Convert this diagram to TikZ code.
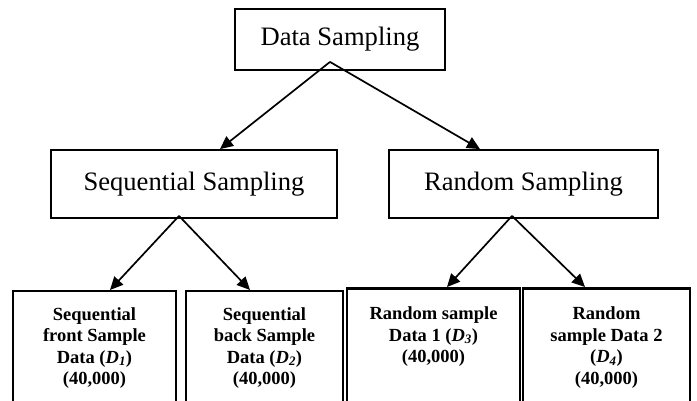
\documentclass[tikz,border=0pt]{standalone}
\usepackage{fontspec}
\setmainfont{Liberation Serif}
\usetikzlibrary{arrows.meta}

\newcommand{\leaftext}[2]{\parbox[t][150pt][t]{#1}{\centering\bfseries\fontsize{18.5}{21.5}\selectfont #2}}

\tikzset{
  topbox/.style={draw, line width=1.8pt, font=\fontsize{26.6}{30}\selectfont, minimum height=61pt},
  midbox/.style={draw, line width=1.8pt, font=\fontsize{26.6}{30}\selectfont, minimum height=68pt},
  leafbox/.style={draw, line width=2pt, anchor=north, inner xsep=3pt, inner ysep=16.4pt},
  arr/.style={-{Triangle[length=13pt,width=12pt]}, line width=1.7pt}
}

\begin{document}
\begin{tikzpicture}[x=1pt, y=-1pt]
	    \useasboundingbox (0,0) rectangle (697,400);
	    \clip (0,0) rectangle (697,400);

	    \node[topbox, minimum width=210pt] (data) at (340,39.5) {Data Sampling};
	    \node[midbox, minimum width=286pt] (seq) at (194,184) {Sequential Sampling};
	    \node[midbox, minimum width=269pt] (rnd) at (523.5,184) {Random Sampling};

	    \node[leafbox] (d1) at (94.5,290) {\leaftext{157pt}{Sequential\\front Sample\\Data (\textit{D\textsubscript{1}})\\(40,000)}};
	    \node[leafbox] (d2) at (264.5,290) {\leaftext{151pt}{Sequential\\back Sample\\Data (\textit{D\textsubscript{2}})\\(40,000)}};
	    \node[leafbox, line width=2.6pt, inner ysep=18.4pt] (d3) at (433.5,287) {\leaftext{167pt}{Random sample\\Data 1 (\textit{D\textsubscript{3}})\\(40,000)}};
	    \node[leafbox, line width=2.6pt, inner ysep=18.4pt] (d4) at (606.5,287) {\leaftext{161pt}{Random\\sample Data 2\\(\textit{D\textsubscript{4}})\\(40,000)}};

	    \coordinate (datafork) at ([xshift=-10pt, yshift=9pt]data.south);
	    \coordinate (seqfork) at ([xshift=-15pt, yshift=3pt]seq.south);
	    \coordinate (rndfork) at ([xshift=-11.5pt, yshift=3pt]rnd.south);

	    \draw[arr] (datafork) -- ([xshift=26pt]seq.north);
	    \draw[arr] (datafork) -- ([xshift=-43.5pt]rnd.north);
	    \draw[arr] (seqfork) -- ([xshift=15.5pt]d1.north);
	    \draw[arr] (seqfork) -- ([xshift=-14.5pt]d2.north);
	    \draw[arr] (rndfork) -- ([xshift=13.5pt]d3.north);
	    \draw[arr] (rndfork) -- ([xshift=-21.5pt]d4.north);
\end{tikzpicture}
\end{document}
